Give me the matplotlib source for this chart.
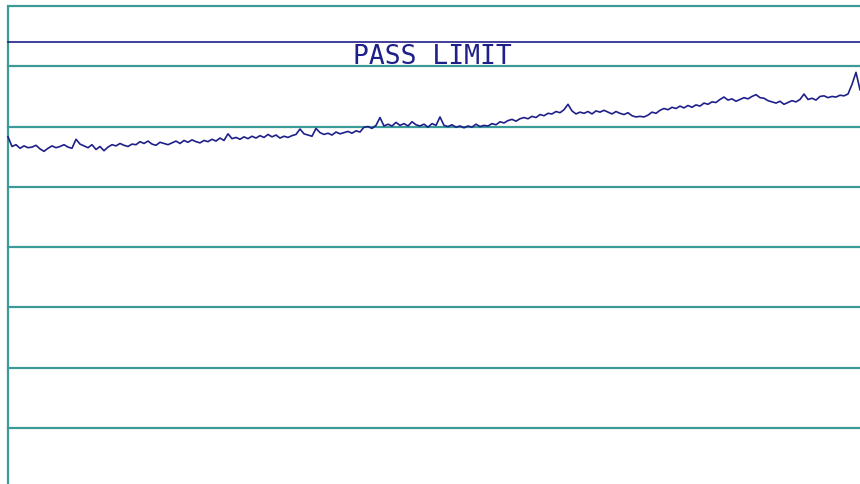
import matplotlib
matplotlib.use("Agg")
import matplotlib.pyplot as plt
import numpy as np

# Measured trace level (dB), one reading per sweep bin
level = [
    -21.7, -23.3, -23.0, -23.6, -23.2, -23.5, -23.4, -23.1, -23.7, -24.1,
    -23.6, -23.2, -23.5, -23.3, -23.0, -23.4, -23.6, -22.1, -22.9, -23.2,
    -23.5, -23.0, -23.8, -23.3, -24.0, -23.4, -23.0, -23.2, -22.8, -23.1,
    -23.3, -22.9, -23.0, -22.5, -22.8, -22.4, -22.9, -23.1, -22.6, -22.8,
    -23.0, -22.7, -22.4, -22.8, -22.3, -22.6, -22.2, -22.5, -22.7, -22.3,
    -22.5, -22.1, -22.4, -21.9, -22.3, -21.2, -22.0, -21.8, -22.1, -21.7,
    -22.0, -21.6, -21.9, -21.5, -21.8, -21.3, -21.7, -21.4, -21.9, -21.6,
    -21.8, -21.5, -21.3, -20.4, -21.2, -21.4, -21.6, -20.3, -21.0, -21.3,
    -21.1, -21.4, -20.9, -21.2, -21.0, -20.8, -21.1, -20.7, -20.9, -20.1,
    -20.0, -20.3, -19.8, -18.5, -19.9, -19.6, -19.9, -19.3, -19.8, -19.5,
    -19.9, -19.2, -19.7, -19.9, -19.6, -20.1, -19.5, -19.8, -18.4, -19.8,
    -20.0, -19.7, -20.1, -19.9, -20.2, -19.9, -20.1, -19.6, -20.0, -19.8,
    -19.9, -19.5, -19.7, -19.2, -19.4, -19.0, -18.8, -19.1, -18.7, -18.5,
    -18.7, -18.3, -18.5, -18.0, -18.2, -17.8, -17.9, -17.5, -17.7, -17.2,
    -16.3, -17.4, -17.9, -17.6, -17.8, -17.5, -17.9, -17.4, -17.6, -17.3,
    -17.6, -17.9, -17.5, -17.8, -18.0, -17.7, -18.2, -18.4, -18.3, -18.4,
    -18.1, -17.6, -17.8, -17.3, -17.0, -17.2, -16.8, -17.0, -16.6, -16.9,
    -16.5, -16.8, -16.4, -16.6, -16.1, -16.3, -15.9, -16.0, -15.5, -15.1,
    -15.6, -15.4, -15.8, -15.5, -15.2, -15.4, -15.0, -14.7, -15.2, -15.3,
    -15.7, -15.9, -16.1, -15.8, -16.3, -16.0, -15.7, -15.9, -15.5, -14.6,
    -15.5, -15.3, -15.6, -15.0, -14.9, -15.2, -15.0, -15.1, -14.8, -14.9,
    -14.6, -13.0, -11.0, -13.9,
]
pass_limit = -6.0
grid_levels = [0, -10, -20, -30, -40, -50, -60, -70]
limit_label = "PASS LIMIT"

navy = "#1f1f8a"
teal = "#3a9b98"

fig = plt.figure(figsize=(8.6, 4.85), dpi=100)
fig.patch.set_facecolor("white")
ax = fig.add_axes([0, 0, 1, 1])
ax.set_facecolor("white")

n = len(level)
bins = np.arange(n)
ax.set_xlim(-2, n - 1)
ax.set_ylim(-79.27, 1.16)
left = 2 / (n + 1)  # axes fraction of the first bin

# graticule: horizontal lines plus the left edge line
for g in grid_levels:
    ax.axhline(g, xmin=left, xmax=1, color=teal, lw=1.6, zorder=1)
ax.vlines(0, -80, 0, color=teal, lw=1.6, zorder=1)

# limit line and its label
ax.axhline(pass_limit, xmin=left, xmax=1, color=navy, lw=1.2, zorder=2)
ax.text((n - 3) / 2 + 0.5, pass_limit - 0.2, limit_label, ha="center", va="top",
        color=navy, fontsize=19, family="DejaVu Sans Mono", zorder=3)

ax.plot(bins, level, color=navy, lw=1.2, zorder=4)

for s in ax.spines.values():
    s.set_visible(False)
ax.set_xticks([])
ax.set_yticks([])

fig.savefig("out.png", dpi=100)
